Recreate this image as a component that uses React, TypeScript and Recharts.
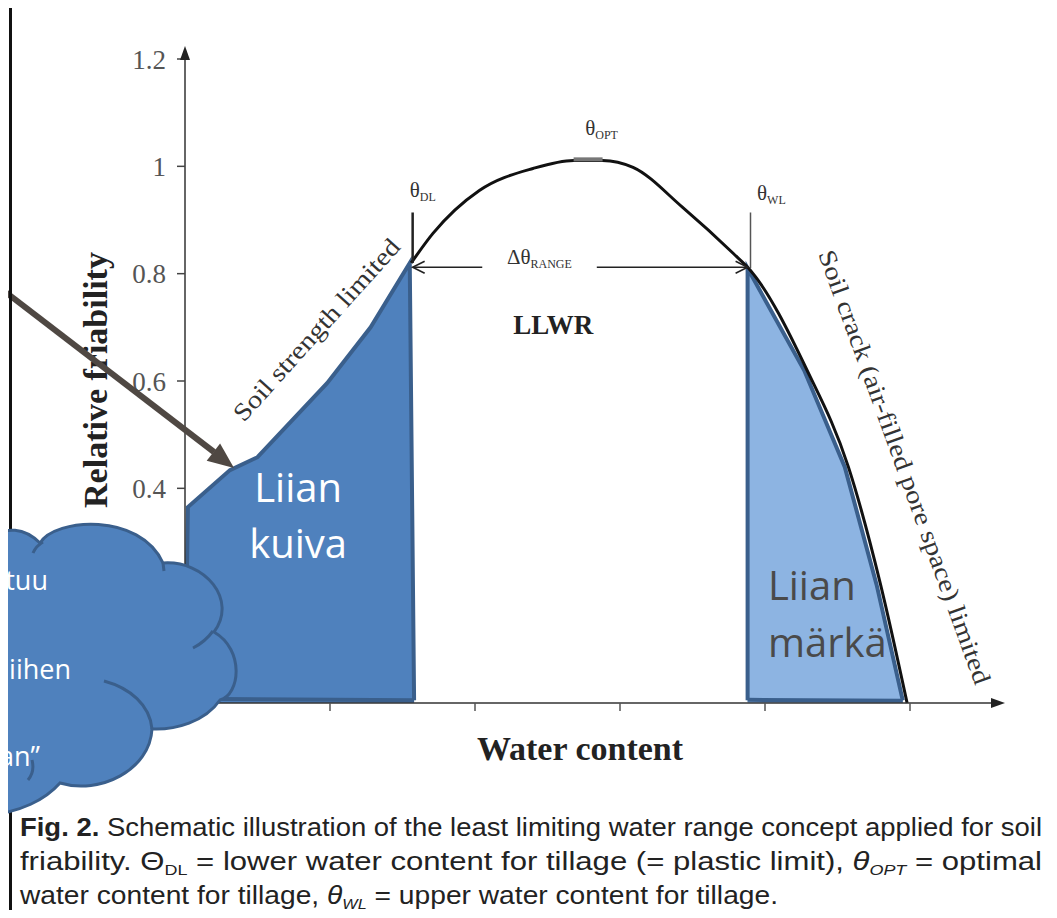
import React from "react";
import {
  ComposedChart, Line, Area, XAxis, YAxis, ReferenceLine, ReferenceDot, Scatter,
} from "recharts";

// friability curve (x in tick units of water content)
// the left limb is drawn by the "too dry" outline, so the black line starts at θDL
const CURVE_X = [1.56, 1.71, 2.03, 2.4, 2.68, 2.88, 3.09, 3.43, 3.78, 3.9, 4.29, 4.575, 4.795, 4.98];
const CURVE_Y = [0.82, 0.875, 0.955, 0.996, 1.011, 1.011, 0.998, 0.924, 0.838, 0.806, 0.62, 0.44, 0.223, 0.0];

// "too dry" region (left)
const DRY_X = [0, 0.02, 0.31, 0.5, 0.98, 1.28, 1.55, 1.58];
const DRY_Y = [0.01, 0.365, 0.434, 0.458, 0.596, 0.7, 0.82, 0.005];

// "too wet" region (right)
const WET_X = [3.88, 3.88, 4.27, 4.55, 4.77, 4.95];
const WET_Y = [0.005, 0.81, 0.62, 0.44, 0.22, 0.005];

const Y_TICKS = [0, 0.2, 0.4, 0.6, 0.8, 1, 1.2];
const X_TICKS = [1, 2, 3, 4, 5];
const X_MAX = 5.6;
const Y_MAX = 1.2;

const THETA_DL = 1.57;
const THETA_WL = 3.9;
const THETA_TOP = 0.914;
const RANGE_Y = 0.812;
const OPT_X = [2.68, 2.88];
const OPT_Y = 1.013;

const THETA_LABELS = [
  { x: 1.55, y: 0.942, main: "θ", sub: "DL" },
  { x: 3.945, y: 0.937, main: "θ", sub: "WL" },
  { x: 2.76, y: 1.058, main: "θ", sub: "OPT" },
  { x: 2.22, y: 0.818, main: "Δθ", sub: "RANGE" },
];

const AXIS_ARROWS = [
  { x: 0, y: Y_MAX, dir: "up" },
  { x: X_MAX, y: 0, dir: "right" },
];
const RANGE_ARROWS = [
  { x: THETA_DL, y: RANGE_Y, dir: "left" },
  { x: THETA_WL - 0.02, y: RANGE_Y, dir: "right" },
];

const zip = (xs: number[], ys: number[]) => xs.map((x, i) => ({ x, y: ys[i] }));
const curve = zip(CURVE_X, CURVE_Y);
const dry = zip(DRY_X, DRY_Y);
const wet = zip(WET_X, WET_Y);

const SERIF = "'Liberation Serif', 'DejaVu Serif', serif";
const SANS = "'Open Sans', 'Noto Sans', sans-serif";
const CAPTION_FONT = "'Liberation Sans', Arial, sans-serif";
const BLUE = "#4F81BD";
const LIGHT_BLUE = "#8DB4E2";
const EDGE = "#3A5F8C";
const SQUEEZE = 0.8; // caption is set in a condensed face

function AxisArrow(p: any) {
  const { cx, cy, payload } = p;
  if (payload.dir === "up")
    return <polygon points={`${cx},${cy - 13} ${cx - 5},${cy + 1} ${cx + 5},${cy + 1}`} fill="#222" />;
  return <polygon points={`${cx + 8},${cy} ${cx - 6},${cy - 5} ${cx - 6},${cy + 5}`} fill="#222" />;
}

function Chevron(p: any) {
  const { cx, cy, payload } = p;
  const s = payload.dir === "left" ? 1 : -1;
  return (
    <path d={`M${cx + s * 12},${cy - 6} L${cx},${cy} L${cx + s * 12},${cy + 6}`}
      fill="none" stroke="#222" strokeWidth={1.6} />
  );
}

export default function App() {
  return (
    <div style={{ position: "relative", width: 1057, height: 918, margin: -8, background: "#fff", overflow: "hidden" }}>
      <ComposedChart width={1057} height={918} margin={{ top: 59, right: 60, left: 105, bottom: 185 }}>
        <XAxis
          type="number" dataKey="x" domain={[0, X_MAX]} ticks={X_TICKS}
          tickFormatter={() => ""} tickSize={8} height={30}
          axisLine={{ stroke: "#333", strokeWidth: 1.5 }} tickLine={{ stroke: "#555", strokeWidth: 1.5 }}
        />
        <YAxis
          type="number" dataKey="y" domain={[0, Y_MAX]} ticks={Y_TICKS} width={80}
          tickSize={8} tickMargin={11}
          tick={{ fontFamily: SERIF, fontSize: 27, fill: "#555" }}
          axisLine={{ stroke: "#333", strokeWidth: 1.5 }} tickLine={{ stroke: "#444", strokeWidth: 1.5 }}
        />
        <Line data={curve} dataKey="y" type="monotone" stroke="#111" strokeWidth={3} dot={false} isAnimationActive={false} />
        <Area data={dry} dataKey="y" type="linear" baseValue={0} fill={BLUE} fillOpacity={1}
          stroke={EDGE} strokeWidth={4} isAnimationActive={false} />
        <Area data={wet} dataKey="y" type="linear" baseValue={0} fill={LIGHT_BLUE} fillOpacity={1}
          stroke={EDGE} strokeWidth={4} isAnimationActive={false} />
        <ReferenceLine segment={[{ x: DRY_X[0], y: 0.008 }, { x: DRY_X[DRY_X.length - 1], y: 0.005 }]} stroke={EDGE} strokeWidth={4} />
        <ReferenceLine segment={[{ x: WET_X[0], y: 0.006 }, { x: WET_X[WET_X.length - 1], y: 0.004 }]} stroke={EDGE} strokeWidth={4} />
        <ReferenceLine segment={[{ x: THETA_DL, y: 0.82 }, { x: THETA_DL, y: THETA_TOP }]} stroke="#222" strokeWidth={2.5} />
        <ReferenceLine segment={[{ x: THETA_WL, y: 0.81 }, { x: THETA_WL, y: THETA_TOP }]} stroke="#555" strokeWidth={1.5} />
        <ReferenceLine segment={[{ x: THETA_DL, y: RANGE_Y }, { x: 2.05, y: RANGE_Y }]} stroke="#222" strokeWidth={1.5} />
        <ReferenceLine segment={[{ x: 2.84, y: RANGE_Y }, { x: THETA_WL - 0.02, y: RANGE_Y }]} stroke="#222" strokeWidth={1.5} />
        <ReferenceLine segment={[{ x: OPT_X[0], y: OPT_Y }, { x: OPT_X[1], y: OPT_Y }]} stroke="#777" strokeWidth={4} />
        <Scatter data={AXIS_ARROWS} dataKey="y" shape={AxisArrow} isAnimationActive={false} />
        <Scatter data={RANGE_ARROWS} dataKey="y" shape={Chevron} isAnimationActive={false} />
        {THETA_LABELS.map((l) => (
          <ReferenceDot key={l.sub} x={l.x} y={l.y} r={0} ifOverflow="visible"
            shape={(p: any) => (
              <text x={p.cx} y={p.cy} fontFamily={SERIF} fill="#333">
                <tspan fontSize={21}>{l.main}</tspan>
                <tspan fontSize={12} dy={4}>{l.sub}</tspan>
              </text>
            )}
          />
        ))}
        <ReferenceDot x={2.54} y={0.687} r={0} ifOverflow="visible"
          shape={(p: any) => (
            <text x={p.cx} y={p.cy} textAnchor="middle" fontFamily={SERIF} fontWeight="bold" fontSize={27} fill="#222">LLWR</text>
          )}
        />
        <ReferenceDot x={0.95} y={0.685} r={0} ifOverflow="visible"
          shape={(p: any) => (
            <text x={p.cx} y={p.cy} textAnchor="middle" fontFamily={SERIF} fontSize={25} fill="#333"
              textLength={236} lengthAdjust="spacingAndGlyphs" transform={`rotate(-48 ${p.cx} ${p.cy})`}>
              Soil strength limited
            </text>
          )}
        />
        <ReferenceDot x={4.945} y={0.438} r={0} ifOverflow="visible"
          shape={(p: any) => (
            <text x={p.cx} y={p.cy} textAnchor="middle" dominantBaseline="middle" fontFamily={SERIF} fontSize={25} fill="#333"
              textLength={460} lengthAdjust="spacingAndGlyphs" transform={`rotate(70 ${p.cx} ${p.cy})`}>
              Soil crack (air-filled pore space) limited
            </text>
          )}
        />
        <ReferenceDot x={0.78} y={0.374} r={0} ifOverflow="visible"
          shape={(p: any) => (
            <text x={p.cx} y={p.cy} textAnchor="middle" fontFamily={SANS} fontSize={40} fill="#fff">
              <tspan x={p.cx}>Liian</tspan>
              <tspan x={p.cx} dy={56}>kuiva</tspan>
            </text>
          )}
        />
        <ReferenceDot x={4.02} y={0.192} r={0} ifOverflow="visible"
          shape={(p: any) => (
            <text x={p.cx} y={p.cy} fontFamily={SANS} fontSize={40} fill="#4a4a4a">
              <tspan x={p.cx}>Liian</tspan>
              <tspan x={p.cx} dy={57}>märkä</tspan>
            </text>
          )}
        />
      </ComposedChart>

      <svg width={1057} height={918} style={{ position: "absolute", left: 0, top: 0 }}>
        <text x={107} y={380} textAnchor="middle" fontFamily={SERIF} fontWeight="bold" fontSize={34} fill="#222"
          transform="rotate(-90 107 380)">Relative friability</text>
        <text x={580} y={760} textAnchor="middle" fontFamily={SERIF} fontWeight="bold" fontSize={34} fill="#222">Water content</text>

        {/* pointer arrow */}
        <line x1={-5} y1={284} x2={214} y2={452} stroke="#4F4843" strokeWidth={6} />
        <polygon points="234,468 206.7,460.8 220.1,443.4" fill="#4F4843" />

        {/* frame of the pasted figure */}
        <path d="M10.5 918 L10.5 6.5 L1057 6.5" fill="none" stroke="#111" strokeWidth={3} />

        {/* cloud callout */}
        <path
          d="M-10 540 C5 525,25 528,40 543 C55 518,140 512,163 563 C205 560,238 600,214 632 C245 650,240 695,220 700 C205 722,175 730,152 729 C150 770,100 795,60 783 C45 800,20 812,-10 815 Z"
          fill={BLUE} stroke={EDGE} strokeWidth={3}
        />
        <path d="M33 553 Q36 546 43 542 M163 563 L164 571 M193 648 Q205 642 213 631 M104 681 C130 688,150 705,152 729 M32 760 Q35 772 28 780"
          fill="none" stroke={EDGE} strokeWidth={3} />
        <g fontFamily={SANS} fontSize={27} fill="#fff" textAnchor="end">
          <text x={48} y={590}>tuu</text>
          <text x={71} y={679}>iihen</text>
          <text x={40} y={766}>an”</text>
        </g>

        {/* caption */}
        <g fontFamily={CAPTION_FONT} fontSize={26} fill="#222" transform={`scale(${SQUEEZE} 1)`}>
          <text x={20 / SQUEEZE} y={836} textLength={1022 / SQUEEZE} lengthAdjust="spacingAndGlyphs">
            <tspan fontWeight="bold">Fig. 2.</tspan> Schematic illustration of the least limiting water range concept applied for soil
          </text>
          <text x={20 / SQUEEZE} y={870} textLength={1022 / SQUEEZE} lengthAdjust="spacingAndGlyphs">
            friability. Θ<tspan fontSize={15} dy={5}>DL</tspan><tspan dy={-5}> = lower water content for tillage (= plastic limit), </tspan>
            <tspan fontStyle="italic">θ</tspan><tspan fontSize={15} dy={5} fontStyle="italic">OPT</tspan><tspan dy={-5}> = optimal</tspan>
          </text>
          <text x={20 / SQUEEZE} y={904} textLength={758 / SQUEEZE} lengthAdjust="spacingAndGlyphs">
            water content for tillage, <tspan fontStyle="italic">θ</tspan><tspan fontSize={15} dy={5} fontStyle="italic">WL</tspan><tspan dy={-5}> = upper water content for tillage.</tspan>
          </text>
        </g>
      </svg>
    </div>
  );
}
